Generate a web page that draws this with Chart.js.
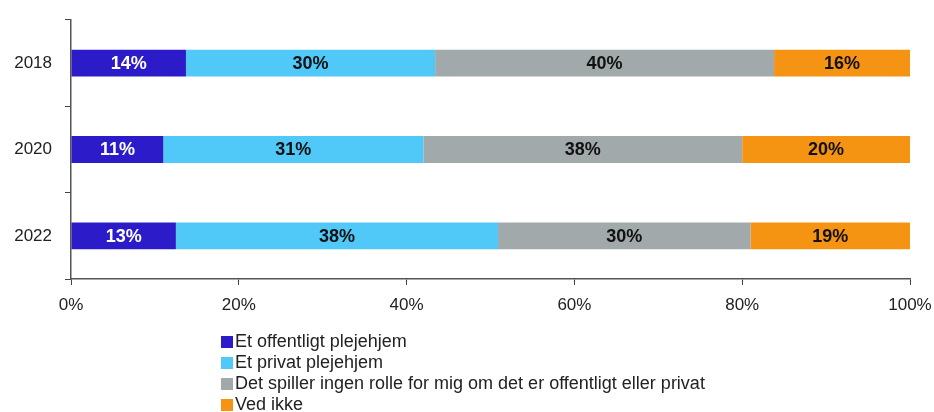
<!DOCTYPE html>
<html>
<head>
<meta charset="utf-8">
<script src="https://cdn.jsdelivr.net/npm/chart.js@4"></script>
<style>
  html, body { margin: 0; padding: 0; background: #fff; }
  #wrap { position: relative; width: 934px; height: 412px; }
  #legend { position: absolute; left: 221px; top: 331px; font-family: "Liberation Sans", Arial, sans-serif; font-size: 18px; color: #222; line-height: 21px; }
  #legend .row { display: flex; align-items: center; white-space: nowrap; }
  #legend .box { width: 12px; height: 12px; margin-right: 2px; }
</style>
</head>
<body>
<div id="wrap">
  <canvas id="chart" width="934" height="412"></canvas>
  <div id="legend"></div>
</div>
<script>
// ---- data ----
const years = ['2018', '2020', '2022'];
const seriesNames = [
  'Et offentligt plejehjem',
  'Et privat plejehjem',
  'Det spiller ingen rolle for mig om det er offentligt eller privat',
  'Ved ikke'
];
const offentligt = [13.7, 11.0, 12.5];
const privat = [29.7, 31.0, 38.4];
const ingenRolle = [40.4, 38.0, 30.1];
const vedIkke = [16.2, 20.0, 19.0];
const shownLabels = [
  [14, 11, 13],
  [30, 31, 38],
  [40, 38, 30],
  [16, 20, 19]
];
const xTicks = [0, 20, 40, 60, 80, 100];

const colors = ['#2c1bc8', '#50c8f8', '#a2a9ab', '#f59312'];
const labelColors = ['#ffffff', '#111111', '#111111', '#111111'];
const FONT = '"Liberation Sans", Arial, sans-serif';

// labels inside the bars
const barLabels = {
  id: 'barLabels',
  afterDatasetsDraw(chart) {
    const ctx = chart.ctx;
    ctx.save();
    ctx.font = 'bold 18px ' + FONT;
    ctx.textAlign = 'center';
    ctx.textBaseline = 'middle';
    chart.data.datasets.forEach((ds, i) => {
      chart.getDatasetMeta(i).data.forEach((bar, j) => {
        const p = bar.getProps(['x', 'y', 'base'], true);
        ctx.fillStyle = labelColors[i];
        ctx.fillText(shownLabels[i][j] + '%', (p.x + p.base) / 2, p.y + 1);
      });
    });
    ctx.restore();
  }
};

const allSeries = [offentligt, privat, ingenRolle, vedIkke];

// fixed axis sizes, no extra label overflow padding
function noPad(scale) {
  scale.paddingLeft = 0;
  scale.paddingRight = 0;
  scale.paddingTop = 0;
  scale.paddingBottom = 0;
}

new Chart(document.getElementById('chart'), {
  type: 'bar',
  data: {
    labels: years,
    datasets: allSeries.map((vals, i) => ({
      label: seriesNames[i],
      data: vals,
      backgroundColor: colors[i],
      borderWidth: 0,
      barPercentage: 0.31,
      categoryPercentage: 1
    }))
  },
  options: {
    indexAxis: 'y',
    responsive: false,
    animation: false,
    layout: { padding: { left: 0, right: 24, top: 20, bottom: 0 } },
    plugins: { legend: { display: false }, tooltip: { enabled: false } },
    scales: {
      x: {
        stacked: true,
        min: 0,
        max: 100,
        afterBuildTicks(scale) { scale.ticks = xTicks.map(v => ({ value: v })); },
        afterFit(scale) { scale.height = 133; noPad(scale); },
        grid: { drawOnChartArea: false, drawTicks: true, tickLength: 6, color: '#444' },
        border: { color: '#555', width: 1.5 },
        ticks: { color: '#222', font: { family: FONT, size: 17 }, padding: 10, callback: v => v + '%' }
      },
      y: {
        stacked: true,
        afterFit(scale) { scale.width = 71; noPad(scale); },
        grid: { drawOnChartArea: false, drawTicks: true, tickLength: 6, offset: true, color: '#444' },
        border: { color: '#555', width: 1.5 },
        ticks: { color: '#222', font: { family: FONT, size: 17 }, padding: 13 }
      }
    }
  },
  plugins: [barLabels]
});

// legend
const legend = document.getElementById('legend');
seriesNames.forEach((name, i) => {
  const row = document.createElement('div');
  row.className = 'row';
  row.innerHTML = '<span class="box" style="background:' + colors[i] + '"></span><span>' + name + '</span>';
  legend.appendChild(row);
});
</script>
</body>
</html>
